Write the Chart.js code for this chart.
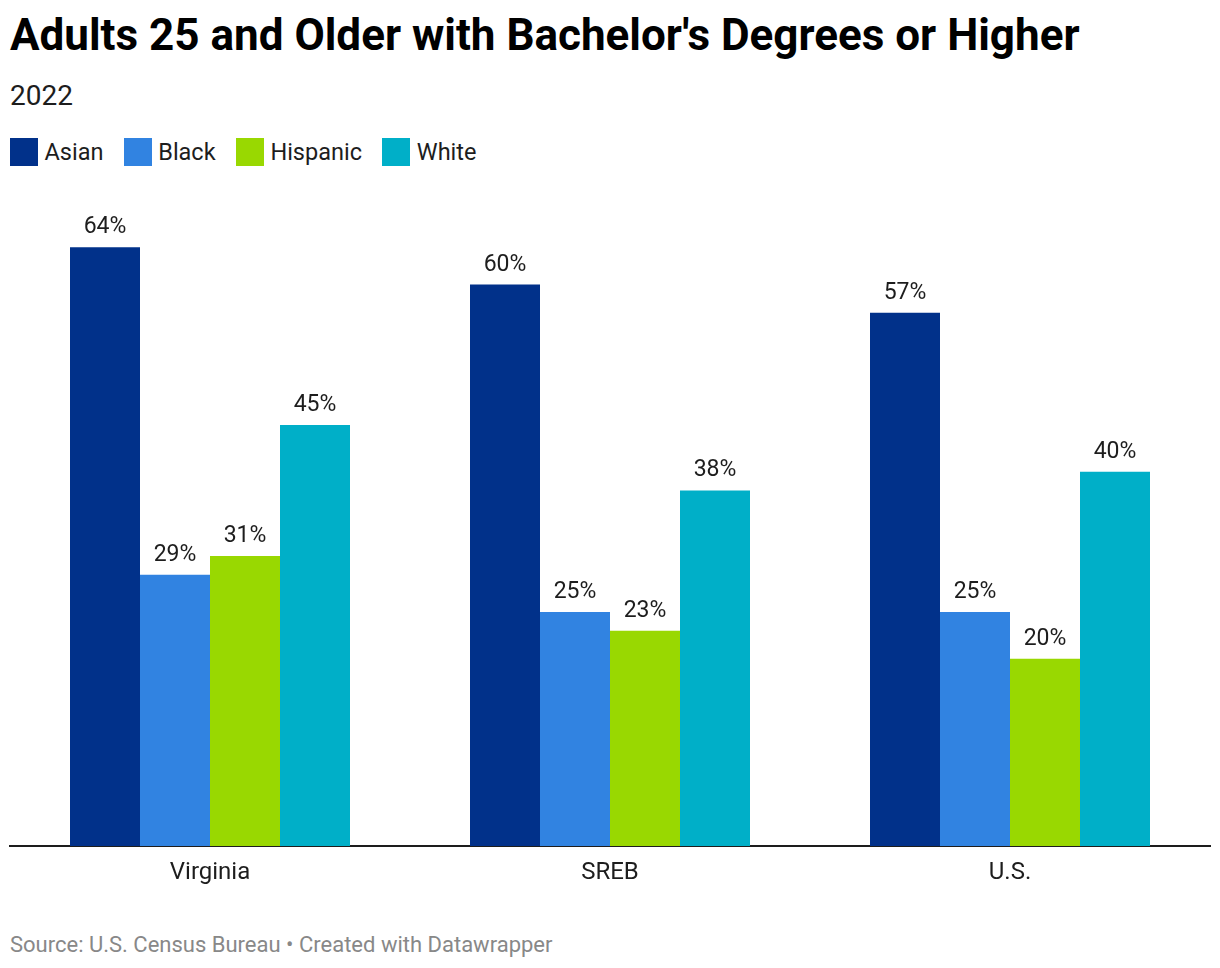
<!DOCTYPE html>
<html>
<head>
<meta charset="utf-8">
<script src="https://cdn.jsdelivr.net/npm/chart.js@4"></script>
<style>
  html, body { margin: 0; padding: 0; background: #fff; }
  body { width: 1220px; height: 968px; position: relative; font-family: Roboto, "Noto Sans", sans-serif; color: #1d1d1d; overflow: hidden; }
  #title { position: absolute; left: 10px; top: 9px; font-size: 44px; font-weight: 700; color: #000; white-space: nowrap; line-height: 52px; }
  #subtitle { position: absolute; left: 10px; top: 80px; font-size: 28px; color: #1d1d1d; line-height: 32px; }
  #legend { position: absolute; left: 10px; top: 138px; display: flex; align-items: center; height: 28px; }
  .item { display: flex; align-items: center; margin-right: 20.3px; font-size: 23.5px; color: #1d1d1d; }
  .box { width: 28px; height: 28px; margin-right: 6.5px; }
  #wrap { position: absolute; left: 0; top: 180px; width: 1220px; height: 706px; }
  #source { position: absolute; left: 10px; top: 932px; font-size: 22px; color: #888; white-space: nowrap; line-height: 26px; }
</style>
</head>
<body>
<div id="title">Adults 25 and Older with Bachelor's Degrees or Higher</div>
<div id="subtitle">2022</div>
<div id="legend"></div>
<div id="wrap"><canvas id="c"></canvas></div>
<div id="source">Source: U.S. Census Bureau • Created with Datawrapper</div>
<script>
const categories = ["Virginia", "SREB", "U.S."];
const seriesNames = ["Asian", "Black", "Hispanic", "White"];
const asian = [64, 60, 57];
const black = [29, 25, 25];
const hispanic = [31, 23, 20];
const white = [45, 38, 40];
const seriesColors = ["#01318a", "#3183e1", "#99d801", "#00afc8"];

const seriesValues = [asian, black, hispanic, white];

const legend = document.getElementById('legend');
seriesNames.forEach((n, i) => {
  const it = document.createElement('div'); it.className = 'item';
  const b = document.createElement('div'); b.className = 'box'; b.style.background = seriesColors[i];
  const t = document.createElement('span'); t.textContent = n;
  it.appendChild(b); it.appendChild(t); legend.appendChild(it);
});

const valueLabels = {
  id: 'valueLabels',
  afterDatasetsDraw(chart) {
    const ctx = chart.ctx;
    ctx.save();
    ctx.font = '23px Roboto, "Noto Sans", sans-serif';
    ctx.fillStyle = '#1d1d1d';
    ctx.textAlign = 'center';
    ctx.textBaseline = 'alphabetic';
    chart.data.datasets.forEach((ds, di) => {
      const meta = chart.getDatasetMeta(di);
      meta.data.forEach((bar, i) => {
        ctx.fillText(ds.data[i] + '%', bar.x, bar.y - 14);
      });
    });
    ctx.restore();
  }
};

new Chart(document.getElementById('c'), {
  type: 'bar',
  data: {
    labels: categories,
    datasets: seriesNames.map((n, i) => ({
      label: n,
      data: seriesValues[i],
      backgroundColor: seriesColors[i],
      borderWidth: 0,
      categoryPercentage: 0.7,
      barPercentage: 1.0
    }))
  },
  options: {
    responsive: true,
    maintainAspectRatio: false,
    animation: false,
    layout: { padding: { left: 10, right: 10, top: 11, bottom: 0 } },
    plugins: { legend: { display: false }, tooltip: { enabled: false } },
    scales: {
      x: {
        grid: { display: false, drawTicks: false },
        border: { display: true, color: '#1d1d1d', width: 2 },
        ticks: { color: '#1d1d1d', font: { size: 24, family: 'Roboto' }, padding: 13 },
        afterFit(scale) { scale.height = 40; }
      },
      y: { display: false, min: 0, max: 70 }
    }
  },
  plugins: [valueLabels]
});
</script>
</body>
</html>
